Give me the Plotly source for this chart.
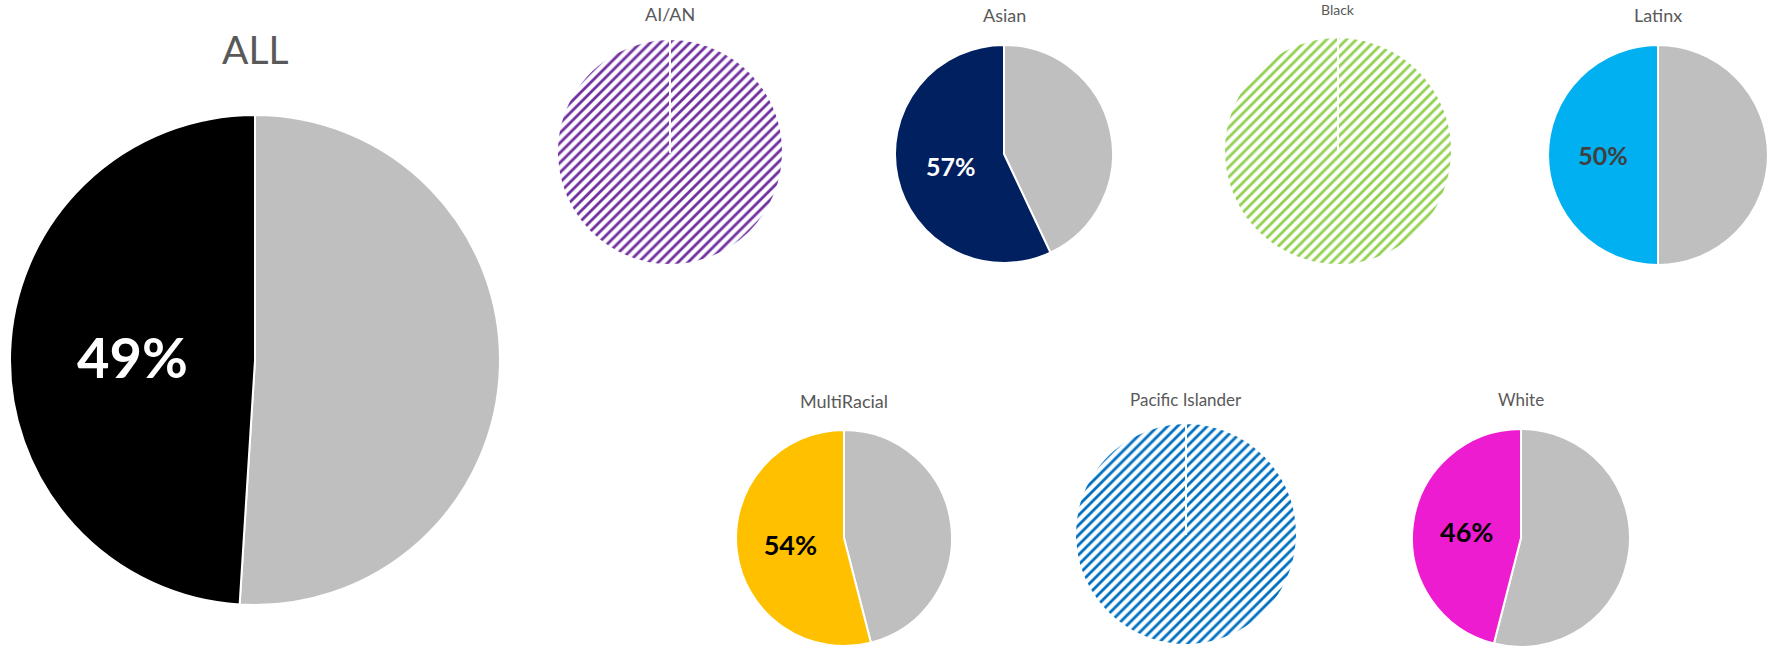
import plotly.graph_objects as go

# share of each group (in %), None = suppressed (drawn hatched)
groups = ['ALL', 'AI/AN', 'Asian', 'Black', 'Latinx', 'MultiRacial', 'Pacific Islander', 'White']
pct = [49, None, 57, None, 50, 54, None, 46]

# layout / style per pie: centre x, centre y, radius (px), colour, label colour, label size, title size
W, H = 1771, 648
centres = [(255, 360), (670, 152), (1004, 154), (1338, 151), (1658, 155), (844, 538), (1186, 534), (1521, 538)]
radii = [245, 113, 109, 114, 110, 108, 111, 109]
colours = ['#000000', '#7030A0', '#002060', '#92D050', '#00B0F0', '#FFC000', '#0070C0', '#EE1CD0']
label_colours = ['white', 'white', 'white', 'white', '#404040', 'black', 'black', 'black']
label_sizes = [56, 25, 25, 25, 25, 27, 27, 27]
title_sizes = [39, 18, 18, 14, 18, 18, 17, 17]
title_y = [49, 14, 15, 10, 15, 401, 399, 399]
rest_colour = '#BFBFBF'
font = 'Lato'

fig = go.Figure()
annotations = []
for i, g in enumerate(groups):
    cx, cy = centres[i]
    r = radii[i]
    dom = dict(x=[(cx - r) / W, (cx + r) / W], y=[1 - (cy + r) / H, 1 - (cy - r) / H])
    if pct[i] is None:
        # suppressed: full hatched disc, tiny 2nd slice just gives the start edge
        fig.add_trace(go.Pie(
            values=[100, 0.001], sort=False, direction='clockwise',
            domain=dom, textinfo='none', hoverinfo='skip',
            marker=dict(colors=['white', 'white'],
                        line=dict(color='white', width=2),
                        pattern=dict(shape='/', fgcolor=colours[i], bgcolor='white',
                                     size=7, solidity=0.4, fillmode='replace')),
        ))
    else:
        # rest first (clockwise from 12 o'clock), group share ends back at the top
        fig.add_trace(go.Pie(
            values=[100 - pct[i], pct[i]], sort=False, direction='clockwise',
            domain=dom, text=['', f'{pct[i]}%'], textinfo='text',
            textposition='inside', insidetextorientation='horizontal',
            textfont=dict(family=font, size=label_sizes[i], color=label_colours[i], weight='bold'),
            hoverinfo='skip',
            marker=dict(colors=[rest_colour, colours[i]], line=dict(color='white', width=2)),
        ))
    annotations.append(dict(
        text=g, x=cx / W, y=1 - title_y[i] / H, xref='paper', yref='paper',
        xanchor='center', yanchor='middle', showarrow=False,
        font=dict(family=font, size=title_sizes[i], color='#595959'),
    ))

fig.update_layout(
    width=W, height=H,
    margin=dict(l=0, r=0, t=0, b=0),
    paper_bgcolor='white', plot_bgcolor='white',
    showlegend=False,
    annotations=annotations,
)

# page body has a default 8px margin; drop it so the figure fills the window
fig.write_html('out.html', config={'displayModeBar': False},
               post_script="document.body.style.margin='0';")
